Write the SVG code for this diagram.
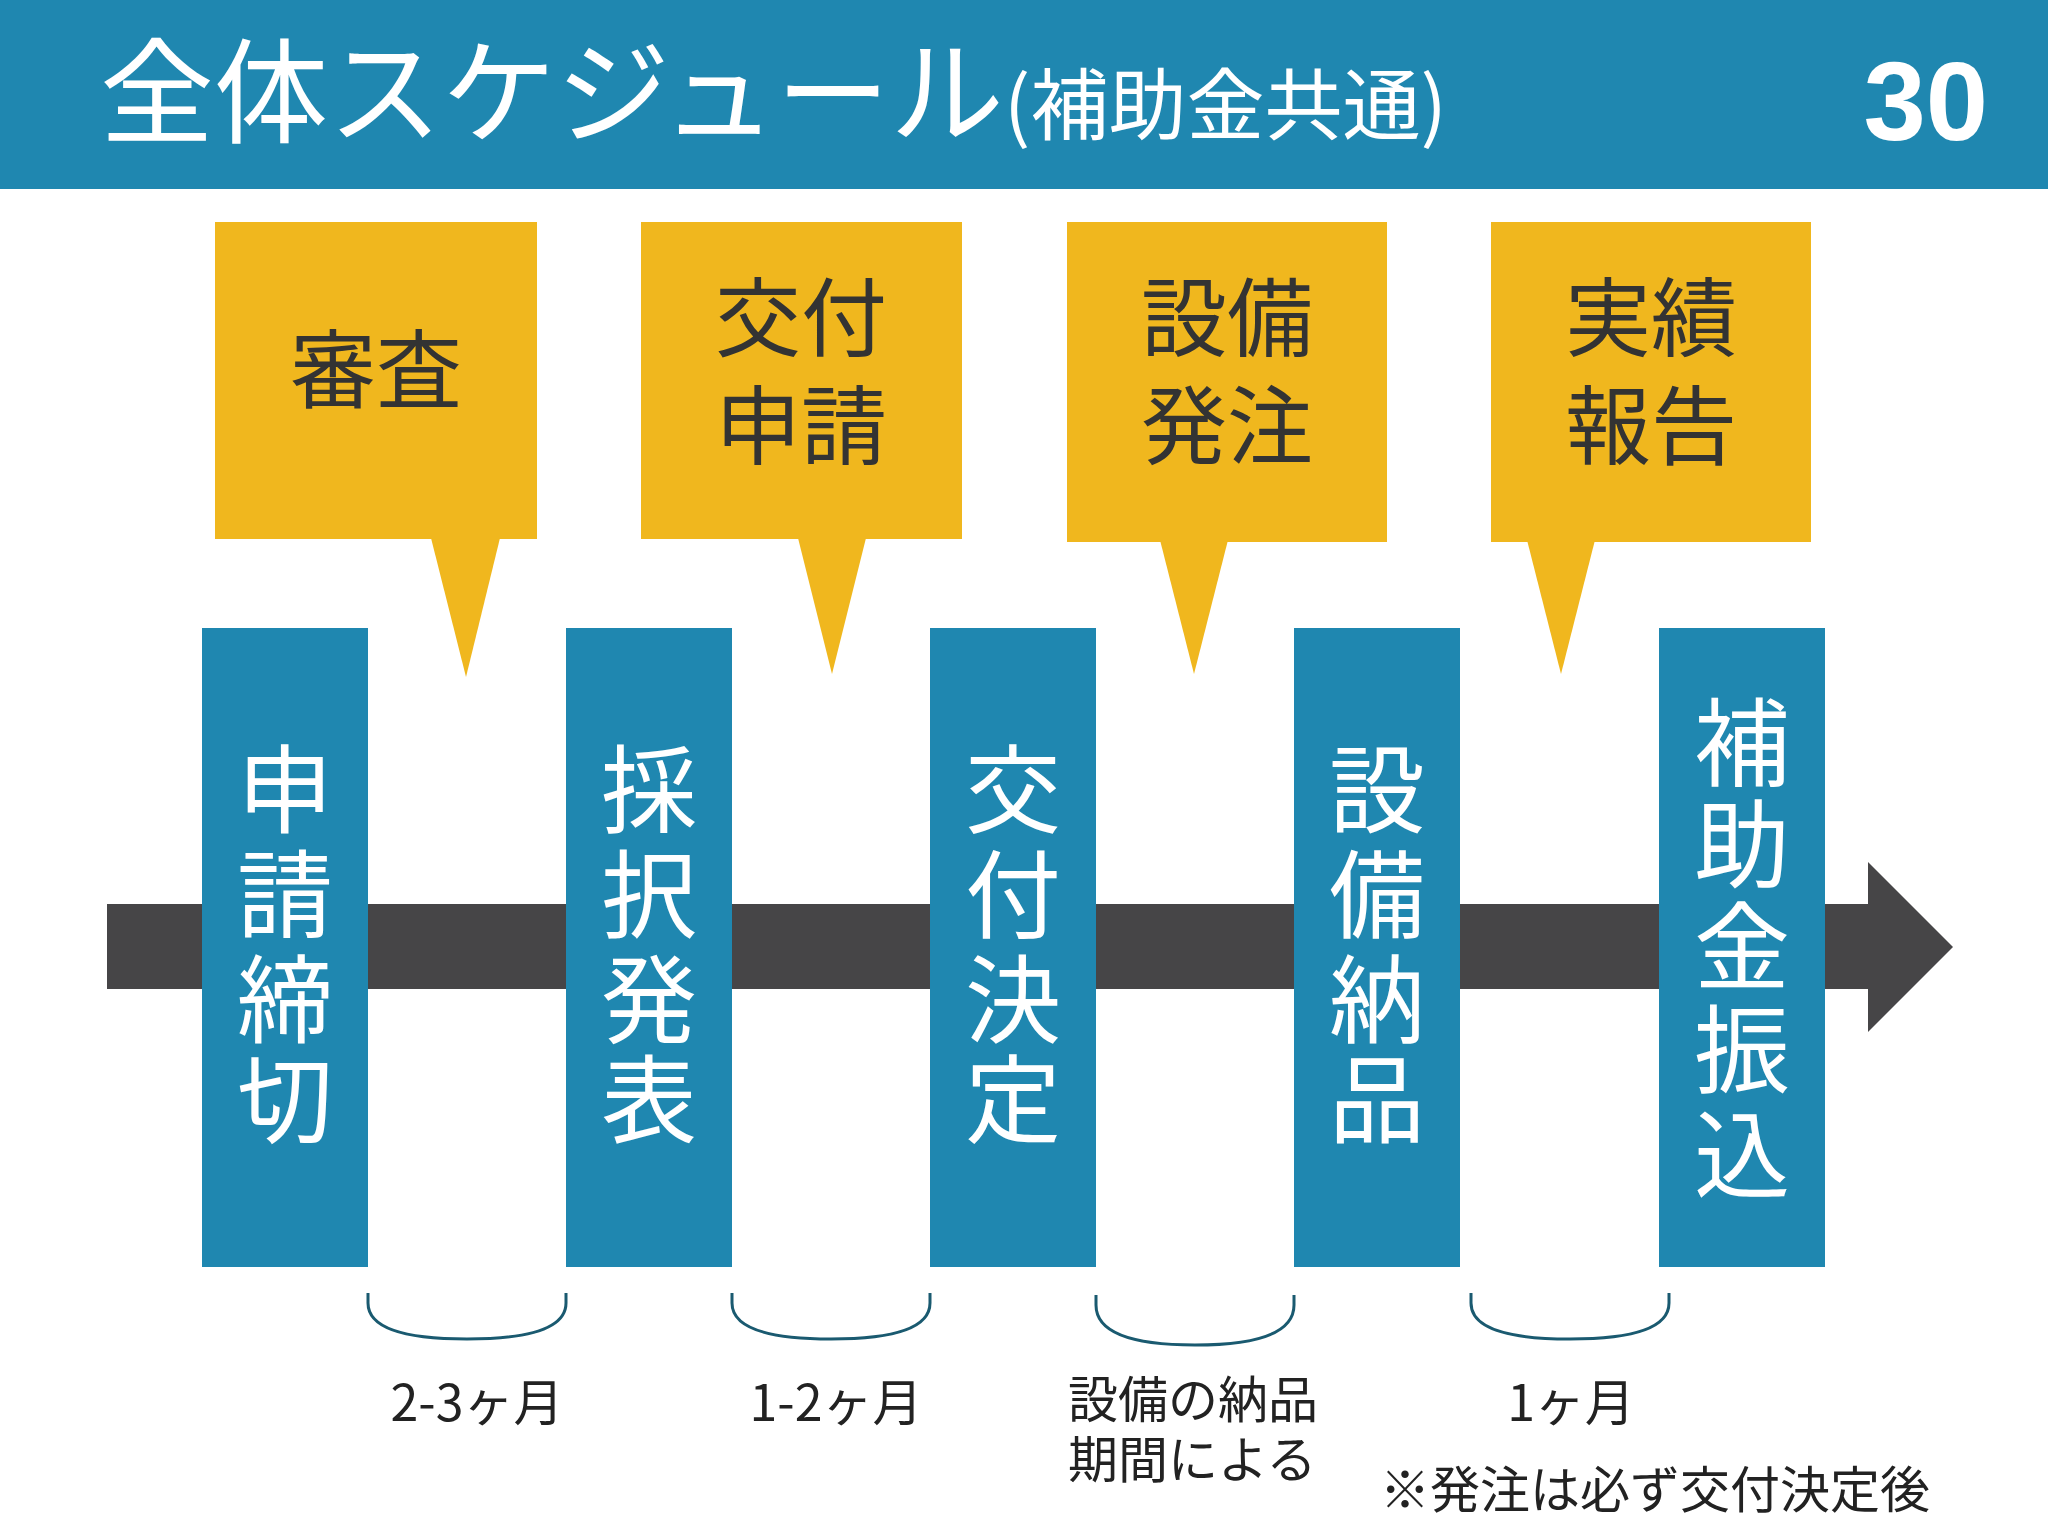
<svg xmlns="http://www.w3.org/2000/svg" width="2048" height="1536" viewBox="0 0 2048 1536">
<style>
.t{font-family:"Noto Sans CJK JP","Noto Sans",sans-serif}
.y{fill:#f0b71e}
.yt{font-family:"Noto Sans CJK JP",sans-serif;font-size:86px;fill:#333;text-anchor:middle}
.b{fill:#1f87b0}
.bt{font-family:"Noto Sans CJK JP",sans-serif;font-size:96px;fill:#fff;text-anchor:middle}
.br{fill:none;stroke:#1a5a70;stroke-width:3}
.lb{font-family:"Noto Sans CJK JP",sans-serif;font-size:50px;fill:#222}
</style>
<rect width="2048" height="1536" fill="#fff"/>
<g id="header">
<rect width="2048" height="189" fill="#1f87b0"/>
<text class="t" x="100" y="134" font-size="114" fill="#fff">全体スケジュール<tspan font-size="78">(補助金共通)</tspan></text>
<text x="1988" y="140" font-family="Liberation Sans,sans-serif" font-weight="bold" font-size="112" fill="#fff" text-anchor="end">30</text>
</g>
<g id="timeline">
<rect x="107" y="904" width="1763" height="85" fill="#464547"/>
<polygon points="1868,862 1953,947 1868,1032" fill="#464547"/>
</g>
<g id="callout1"><rect class="y" x="215" y="222" width="322" height="317"/><polygon class="y" points="431,538 500,538 466,677"/><text class="yt" x="376" y="402">審査</text></g>
<g id="callout2"><rect class="y" x="641" y="222" width="321" height="317"/><polygon class="y" points="798,538 866,538 832,674"/><text class="yt" x="801" y="350">交付</text><text class="yt" x="801" y="458">申請</text></g>
<g id="callout3"><rect class="y" x="1067" y="222" width="320" height="320"/><polygon class="y" points="1160,540 1228,540 1194,674"/><text class="yt" x="1227" y="350">設備</text><text class="yt" x="1227" y="458">発注</text></g>
<g id="callout4"><rect class="y" x="1491" y="222" width="320" height="320"/><polygon class="y" points="1527,540 1595,540 1561,674"/><text class="yt" x="1651" y="350">実績</text><text class="yt" x="1651" y="458">報告</text></g>
<g id="step1"><rect class="b" x="202" y="628" width="166" height="639"/><text class="bt" x="285" y="825">申</text><text class="bt" x="285" y="930">請</text><text class="bt" x="285" y="1035">締</text><text class="bt" x="285" y="1135">切</text></g>
<g id="step2"><rect class="b" x="566" y="628" width="166" height="639"/><text class="bt" x="649" y="825">採</text><text class="bt" x="649" y="930">択</text><text class="bt" x="649" y="1035">発</text><text class="bt" x="649" y="1135">表</text></g>
<g id="step3"><rect class="b" x="930" y="628" width="166" height="639"/><text class="bt" x="1013" y="825">交</text><text class="bt" x="1013" y="930">付</text><text class="bt" x="1013" y="1035">決</text><text class="bt" x="1013" y="1135">定</text></g>
<g id="step4"><rect class="b" x="1294" y="628" width="166" height="639"/><text class="bt" x="1377" y="825">設</text><text class="bt" x="1377" y="930">備</text><text class="bt" x="1377" y="1035">納</text><text class="bt" x="1377" y="1135">品</text></g>
<g id="step5"><rect class="b" x="1659" y="628" width="166" height="639"/><text class="bt" x="1742" y="778">補</text><text class="bt" x="1742" y="880">助</text><text class="bt" x="1742" y="982">金</text><text class="bt" x="1742" y="1085">振</text><text class="bt" x="1742" y="1190">込</text></g>
<g id="connectors">
<path class="br" d="M368,1293 v10 Q368,1339 467,1339 Q566,1339 566,1303 v-10"/>
<path class="br" d="M732,1293 v10 Q732,1339 831,1339 Q930,1339 930,1303 v-10"/>
<path class="br" d="M1096,1295 v10 Q1096,1345 1195,1345 Q1294,1345 1294,1305 v-10"/>
<path class="br" d="M1471,1293 v10 Q1471,1339 1570,1339 Q1669,1339 1669,1303 v-10"/>
</g>
<g id="labels">
<text class="lb" x="477" y="1421" text-anchor="middle">2-3ヶ月</text>
<text class="lb" x="836" y="1421" text-anchor="middle">1-2ヶ月</text>
<text class="lb" x="1068" y="1418">設備の納品</text>
<text class="lb" x="1068" y="1478">期間による</text>
<text class="lb" x="1571" y="1421" text-anchor="middle">1ヶ月</text>
<text class="lb" x="1380" y="1508">※発注は必ず交付決定後</text>
</g>
</svg>
